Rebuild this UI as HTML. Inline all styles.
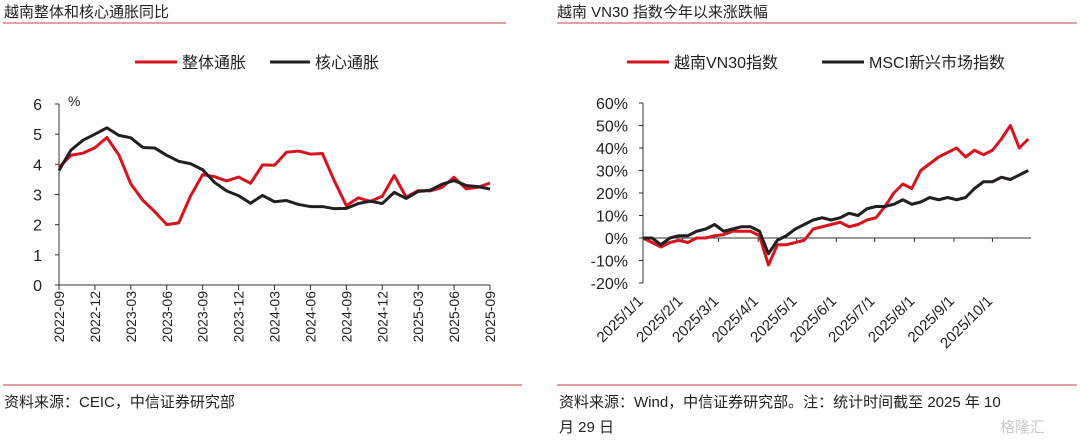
<!DOCTYPE html>
<html><head><meta charset="utf-8"><style>
body{margin:0;background:#fff;width:1080px;height:439px;overflow:hidden;font-family:"Liberation Sans","Noto Sans CJK SC",sans-serif;}
svg text{font-family:"Liberation Sans","Noto Sans CJK SC",sans-serif;}
</style></head><body>
<svg width="1080" height="439">
<text x="4" y="17" font-size="15" fill="#222">越南整体和核心通胀同比</text>
<line x1="3" y1="23" x2="506" y2="23" stroke="#c9404a" stroke-width="1"/>
<text x="557" y="17" font-size="15" fill="#222">越南 VN30 指数今年以来涨跌幅</text>
<line x1="557" y1="23" x2="1077" y2="23" stroke="#c9404a" stroke-width="1"/>
<g>
<line x1="135" y1="62" x2="177" y2="62" stroke="#d7141e" stroke-width="3"/>
<text x="182" y="68" font-size="16" fill="#222">整体通胀</text>
<line x1="270" y1="62" x2="310" y2="62" stroke="#222" stroke-width="3"/>
<text x="315" y="68" font-size="16" fill="#222">核心通胀</text>
</g>
<g>
<line x1="627" y1="62" x2="669" y2="62" stroke="#d7141e" stroke-width="3"/>
<text x="674" y="68" font-size="16" fill="#222">越南VN30指数</text>
<line x1="822" y1="62" x2="864" y2="62" stroke="#222" stroke-width="3"/>
<text x="869" y="68" font-size="16" fill="#222">MSCI新兴市场指数</text>
</g>
<g id="left"></g>
<g id="right"></g>
<line x1="3" y1="385" x2="522" y2="385" stroke="#c9404a" stroke-width="1"/>
<text x="4" y="407" font-size="15" fill="#222">资料来源：CEIC，中信证券研究部</text>
<line x1="557" y1="385" x2="1077" y2="385" stroke="#c9404a" stroke-width="1"/>
<text x="559" y="407" font-size="15" fill="#222">资料来源：Wind，中信证券研究部。注：统计时间截至 2025 年 10</text>
<text x="559" y="432" font-size="15" fill="#222">月 29 日</text>
<text x="1000" y="432" font-size="15" fill="#ccc">格隆汇</text>
</svg>
<script>
const leftCats=["2022-09","2022-12","2023-03","2023-06","2023-09","2023-12","2024-03","2024-06","2024-09","2024-12","2025-03","2025-06","2025-09"];
const headline=[3.9,4.3,4.37,4.55,4.89,4.31,3.35,2.81,2.43,2.0,2.06,2.96,3.66,3.59,3.45,3.58,3.37,3.98,3.97,4.40,4.44,4.34,4.36,3.45,2.63,2.89,2.77,2.94,3.63,2.91,3.13,3.12,3.24,3.57,3.19,3.24,3.38];
const core=[3.8,4.47,4.8,5.0,5.21,4.96,4.88,4.56,4.54,4.3,4.1,4.02,3.82,3.4,3.12,2.96,2.71,2.97,2.76,2.8,2.67,2.6,2.6,2.53,2.54,2.7,2.78,2.7,3.07,2.87,3.1,3.14,3.34,3.46,3.3,3.26,3.18];
const leftTicks=[0,1,2,3,4,5,6];
const rightTicks=[-20,-10,0,10,20,30,40,50,60];
const rightCats=["2025/1/1","2025/2/1","2025/3/1","2025/4/1","2025/5/1","2025/6/1","2025/7/1","2025/8/1","2025/9/1","2025/10/1"];
const rightCatDays=[0,31,59,90,120,151,181,212,243,273];
const vn30=[0,-2,-4,-2,-1,-2,0,0,1,1.5,3,3,3,1,-12,-3,-3,-2,-1,4,5,6,7,5,6,8,9,14,20,24,22,30,33,36,38,40,36,39,37,39,44,50,40,44];
const msci=[0,0,-3,0,1,1,3,4,6,3,4,5,5,3,-7,-1,1,4,6,8,9,8,9,11,10,13,14,14,15,17,15,16,18,17,18,17,18,22,25,25,27,26,28,30];
const NS="http://www.w3.org/2000/svg";
function mk(p,t,a){const e=document.createElementNS(NS,t);for(const k in a)e.setAttribute(k,a[k]);p.appendChild(e);return e;}
const L=document.getElementById('left');
const lx=i=>59+i*(431/36), ly=v=>285-v*(181/6);
let e=mk(L,'line',{x1:59,y1:ly(6),x2:59,y2:285,stroke:'#333'});

e=mk(L,'line',{x1:59,y1:285,x2:490,y2:285,stroke:'#333'});

leftTicks.forEach(t=>{mk(L,'line',{x1:55,y1:ly(t),x2:59,y2:ly(t),stroke:'#333'});
 const tx=mk(L,'text',{x:42,y:ly(t)+6,'font-size':16,fill:'#222','text-anchor':'end'});tx.textContent=t;
 });
const pc=mk(L,'text',{x:68,y:106,'font-size':14,fill:'#222'});pc.textContent='%';

leftCats.forEach((c,k)=>{const x=lx(k*3);mk(L,'line',{x1:x,y1:285,x2:x,y2:290,stroke:'#333'});
 const tx=mk(L,'text',{x:0,y:0,'font-size':14,fill:'#222','text-anchor':'end',transform:`translate(${x+5},${291}) rotate(-90)`});tx.textContent=c;
 });
function line(p,arr,fx,fy,col,name){const pl=mk(p,'polyline',{points:arr.map((v,i)=>fx(i)+','+fy(v)).join(' '),fill:'none',stroke:col,'stroke-width':3,'stroke-linejoin':'round'});
 }
line(L,headline,lx,ly,'#d7141e','headline-inflation-line');
line(L,core,lx,ly,'#231f20','core-inflation-line');
const R=document.getElementById('right');
const dx=d=>643+d*1.28, ry=v=>238-v*2.25;
e=mk(R,'line',{x1:643,y1:ry(60),x2:643,y2:ry(-20),stroke:'#333'});

e=mk(R,'line',{x1:643,y1:ry(0),x2:1031,y2:ry(0),stroke:'#333'});

rightTicks.forEach(t=>{mk(R,'line',{x1:639,y1:ry(t),x2:643,y2:ry(t),stroke:'#333'});
 const tx=mk(R,'text',{x:628,y:ry(t)+6,'font-size':16,fill:'#222','text-anchor':'end'});tx.textContent=t+'%';
 });
rightCats.forEach((c,k)=>{const x=dx(rightCatDays[k]);if(k>0)mk(R,'line',{x1:x,y1:ry(0),x2:x,y2:ry(0)+4,stroke:'#333'});
 const tx=mk(R,'text',{x:0,y:0,'font-size':15,fill:'#222','text-anchor':'end',transform:`translate(${x+1},${302}) rotate(-45)`});tx.textContent=c;
 });
const wx=i=>dx(i*7);
line(R,vn30,wx,ry,'#d7141e','vn30-line');
line(R,msci,wx,ry,'#231f20','msci-em-line');
</script>
</body></html>
